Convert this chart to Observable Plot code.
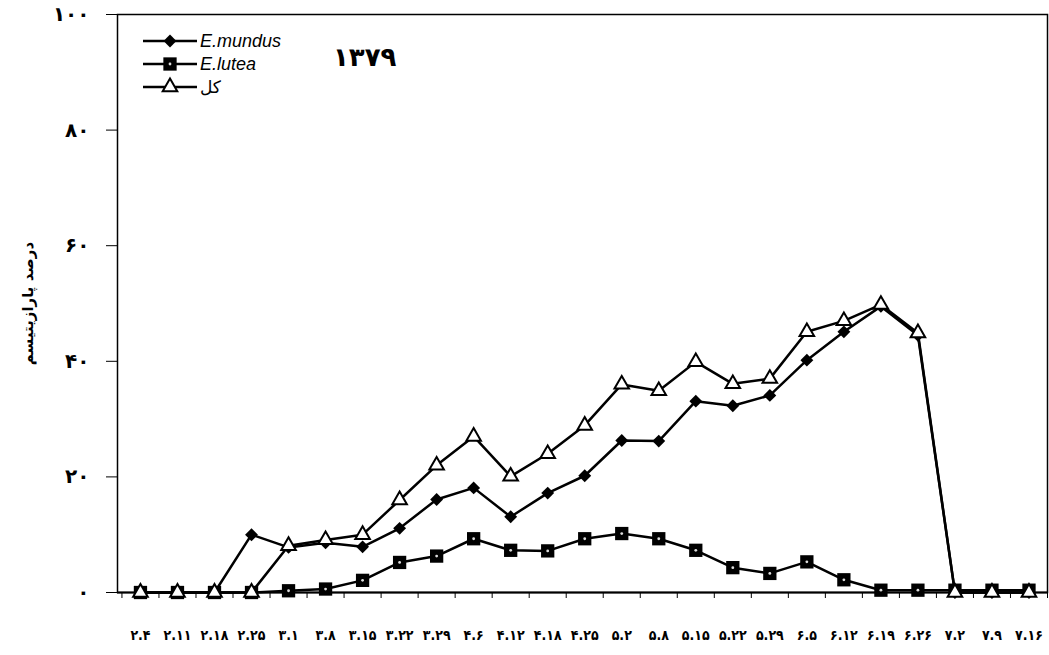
<!DOCTYPE html>
<html><head><meta charset="utf-8">
<script src="https://cdn.jsdelivr.net/npm/d3@7"></script>
<script src="https://cdn.jsdelivr.net/npm/@observablehq/plot@0.6"></script>
<style>body{margin:0;background:#fff}</style>
</head><body><div id="chart"></div>
<script>
const dates = ["۲.۴","۲.۱۱","۲.۱۸","۲.۲۵","۳.۱","۳.۸","۳.۱۵","۳.۲۲","۳.۲۹","۴.۶","۴.۱۲","۴.۱۸","۴.۲۵","۵.۲","۵.۸","۵.۱۵","۵.۲۲","۵.۲۹","۶.۵","۶.۱۲","۶.۱۹","۶.۲۶","۷.۲","۷.۹","۷.۱۶"];
const mundus = [0,0,0,10.0,7.8,8.6,7.9,11.1,16.1,18.1,13.1,17.2,20.2,26.3,26.2,33.1,32.3,34.1,40.2,45.1,49.5,44.5,0,0,0];
const lutea  = [0,0,0,0,0.3,0.6,2.1,5.2,6.3,9.3,7.3,7.2,9.3,10.2,9.3,7.3,4.3,3.3,5.3,2.2,0.4,0.4,0.4,0.4,0.4];
const total  = [0,0,0,0,8.1,9.1,10.0,16.0,22.0,27.0,20.1,24.0,28.9,36.0,34.9,39.9,36.1,37.0,45.1,47.0,49.8,44.9,0,0,0];
const yTicks = [0,20,40,60,80,100];
const yTickLabels = ["۰","۲۰","۴۰","۶۰","۸۰","۱۰۰"];
const seriesNames = ["E.mundus","E.lutea","کل"];
const yearLabel = "۱۳۷۹";
const yTitle = "درصد پارازیتیسم";

const rows = dates.map((d,i)=>({i, date:d, mundus:mundus[i], lutea:lutea[i], total:total[i]}));
const idx = dates.map((d,i)=>i);
const minorTicks = d3.range(-0.5, dates.length, 1);
const persian = "'DejaVu Sans', sans-serif";
const persianCond = "'DejaVu Sans Condensed', 'DejaVu Sans', sans-serif";

const R_SQ = 7.5, R_DI = 5.8, R_TR = 5.4;

const chart = Plot.plot({
  width:1049, height:655,
  marginLeft:117, marginRight:2, marginTop:14, marginBottom:63,
  style:{fontFamily: persian, background:"white", color:"black", overflow:"visible"},
  x:{type:"linear", domain:[-0.62, 24.5]},
  y:{domain:[0,100]},
  marks:[
    Plot.frame({stroke:"black", strokeWidth:1.5}),
    Plot.axisY({ticks:yTicks, tickFormat:(d)=>yTickLabels[yTicks.indexOf(d)], tickSize:11, tickPadding:17, fontSize:20, fontWeight:"bold", label:null}),
    Plot.text([yTitle], {frameAnchor:"left", dx:-89, rotate:-90, textAnchor:"middle", fontSize:15, fontWeight:"bold"}),
    Plot.axisX({ticks:idx, tickFormat:(i)=>dates[i], tickSize:0, tickPadding:38, fontSize:14, fontWeight:"bold", fontFamily:persianCond, label:null}),
    Plot.axisX({ticks:minorTicks, tickFormat:()=>"", tickSize:6, label:null}),
    Plot.ruleY([0], {stroke:"black", strokeWidth:2}),
    Plot.lineY(rows, {x:"i", y:"lutea", stroke:"black", strokeWidth:2.5}),
    Plot.lineY(rows, {x:"i", y:"mundus", stroke:"black", strokeWidth:2.5}),
    Plot.lineY(rows, {x:"i", y:"total", stroke:"black", strokeWidth:2.5}),
    Plot.dot(rows, {x:"i", y:"lutea", symbol:"square", r:R_SQ, fill:"black"}),
    Plot.dot(rows, {x:"i", y:"lutea", r:1.4, fill:"#ddd"}),
    Plot.dot(rows, {x:"i", y:"mundus", symbol:"diamond2", r:R_DI, fill:"black"}),
    Plot.dot(rows, {x:"i", y:"total", symbol:"triangle", r:R_TR, fill:"white", stroke:"black", strokeWidth:2})
  ]
});
document.getElementById("chart").appendChild(chart);

// legend inside the plot area
const svg = d3.select(chart);
const lg = svg.append("g").attr("text-anchor","start");
const legendRows = [
  {name:seriesNames[0], type:d3.symbolDiamond2, r:R_DI, fill:"black", stroke:"none", italic:true},
  {name:seriesNames[1], type:d3.symbolSquare, r:R_SQ, fill:"black", stroke:"none", italic:true, dot:true},
  {name:seriesNames[2], type:d3.symbolTriangle, r:R_TR, fill:"white", stroke:"black", italic:false}
];
legendRows.forEach((d,k)=>{
  const y = 41 + k*23;
  lg.append("line").attr("x1",143).attr("x2",197).attr("y1",y).attr("y2",y).attr("stroke","black").attr("stroke-width",2.5);
  lg.append("path").attr("transform",`translate(170,${y})`)
    .attr("d", d3.symbol().type(d.type).size(Math.PI*d.r*d.r)())
    .attr("fill",d.fill).attr("stroke",d.stroke).attr("stroke-width",2);
  if (d.dot) lg.append("circle").attr("cx",170).attr("cy",y).attr("r",1.4).attr("fill","#ddd");
  lg.append("text").attr("x",200).attr("y",y+6).attr("text-anchor","start")
    .attr("font-size",d.italic?18:17).attr("font-style",d.italic?"italic":"normal")
    .attr("font-family", d.italic ? "'Liberation Sans', Arial, sans-serif" : persian)
    .text(d.name);
});
svg.append("text").attr("x",333).attr("y",66).attr("text-anchor","start").attr("font-size",26).attr("font-weight","bold")
  .attr("font-family",persian).text(yearLabel);
</script>
</body></html>
